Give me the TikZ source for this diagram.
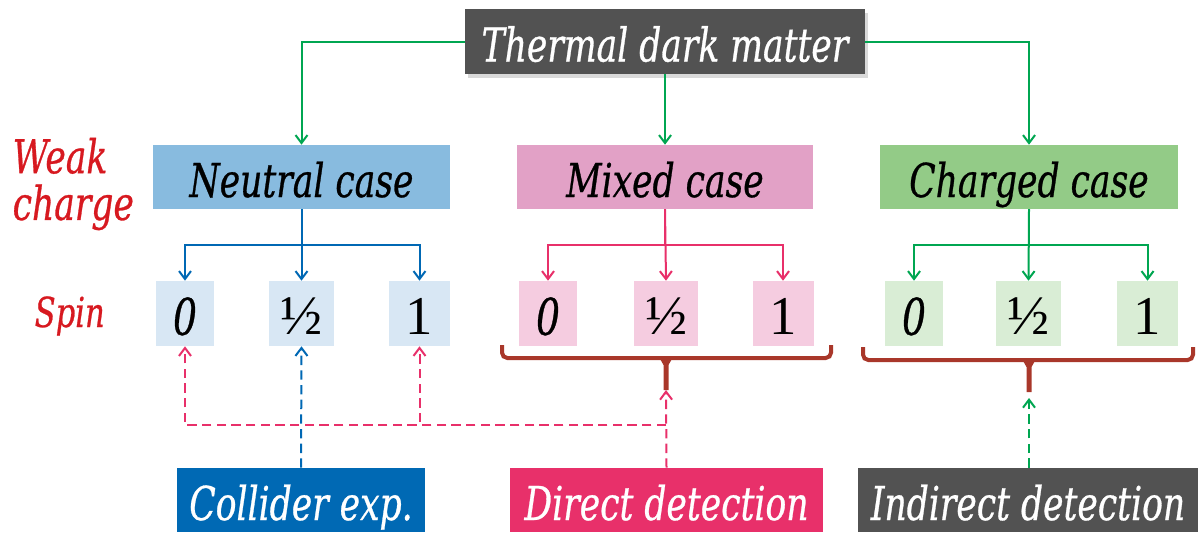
\documentclass[tikz,border=0pt]{standalone}
\usepackage{fontspec}
\setmainfont{Liberation Serif}
\newfontfamily\casefont[FakeStretch=0.74,FakeBold=0.6]{DejaVu Serif}
\usetikzlibrary{arrows.meta,shadows}

\definecolor{topgray}{RGB}{82,82,82}
\definecolor{neutralfill}{RGB}{136,187,223}
\definecolor{mixedfill}{RGB}{226,161,198}
\definecolor{chargedfill}{RGB}{147,203,135}
\definecolor{neutralspin}{RGB}{216,231,244}
\definecolor{mixedspin}{RGB}{245,204,224}
\definecolor{chargedspin}{RGB}{217,237,213}
\definecolor{colliderblue}{RGB}{0,105,180}
\definecolor{directpink}{RGB}{232,48,106}
\definecolor{linegreen}{RGB}{0,166,81}
\definecolor{lineblue}{RGB}{0,104,180}
\definecolor{bracered}{RGB}{169,55,42}
\definecolor{labelred}{RGB}{215,25,32}

\tikzset{
  bigtext/.style={font=\casefont\itshape\fontsize{35}{35}\selectfont, text height=30pt, text depth=0pt},
  topbox/.style={bigtext, fill=topgray, text=white, inner sep=0pt, minimum width=400*0.75pt, minimum height=65*0.75pt},
  casebox/.style={bigtext, inner sep=0pt, minimum height=64*0.75pt},
  detbox/.style={bigtext, text=white, inner sep=0pt, minimum height=64*0.75pt},
  spinbox/.style={inner sep=0pt, minimum height=65*0.75pt, font=\fontsize{41}{41}\selectfont, text height=32pt, text depth=0pt},
  branch/.style={line width=1.5pt, -{Straight Barb[length=6pt,width=9pt,line width=1.5pt]}},
  probe/.style={line width=1.5pt, dash pattern=on 7pt off 4pt, -{Straight Barb[length=6pt,width=9pt,line width=1.5pt]}},
  sidelabel/.style={text=labelred, font=\casefont\itshape\fontsize{35}{35}\selectfont}
}

\begin{document}
\begin{tikzpicture}[x=0.75pt,y=0.75pt,yscale=-1,xscale=1]
\useasboundingbox (0,0) rectangle (1198,532);

%Shape: Rectangle
\node[topbox, drop shadow={opacity=0.3, shadow xshift=2pt, shadow yshift=-3pt}] (tdm) at (665,41.5) {Thermal dark matter};

%Shape: Rectangle
\node[casebox, fill=neutralfill, minimum width=297*0.75pt] (neutral) at (301.5,177) {Neutral case};
\node[casebox, fill=mixedfill, minimum width=296*0.75pt] (mixed) at (665,177) {Mixed case};
\node[casebox, fill=chargedfill, minimum width=298*0.75pt] (charged) at (1029,177) {Charged case};

%Text
\node[sidelabel, align=left, anchor=west] (weak) at (8,184) {Weak\\charge};
\node[text=labelred, font=\casefont\itshape\fontsize{31}{31}\selectfont, anchor=base west] (spin) at (30,327) {Spin};

%Shape: Rectangle
\node[spinbox, fill=neutralspin, minimum width=58*0.75pt] (n0) at (185,313.5) {\casefont\itshape\fontsize{38}{38}\selectfont 0};
\node[spinbox, fill=neutralspin, minimum width=65*0.75pt] (nhalf) at (301.5,313.5) {\fontsize{42}{42}\selectfont ½};
\node[spinbox, fill=neutralspin, minimum width=61*0.75pt] (n1) at (419.5,313.5) {1};
\node[spinbox, fill=mixedspin, minimum width=58*0.75pt] (m0) at (548,313.5) {\casefont\itshape\fontsize{38}{38}\selectfont 0};
\node[spinbox, fill=mixedspin, minimum width=64*0.75pt] (mhalf) at (666,313.5) {\fontsize{42}{42}\selectfont ½};
\node[spinbox, fill=mixedspin, minimum width=61*0.75pt] (m1) at (783,313.5) {1};
\node[spinbox, fill=chargedspin, minimum width=58*0.75pt] (c0) at (914,313.5) {\casefont\itshape\fontsize{38}{38}\selectfont 0};
\node[spinbox, fill=chargedspin, minimum width=65*0.75pt] (chalf) at (1028.5,313.5) {\fontsize{42}{42}\selectfont ½};
\node[spinbox, fill=chargedspin, minimum width=61*0.75pt] (c1) at (1147.5,313.5) {1};

%Shape: Rectangle
\node[detbox, fill=colliderblue, minimum width=248*0.75pt] (collider) at (301,500) {Collider exp.};
\node[detbox, fill=directpink, minimum width=313*0.75pt] (direct) at (666.5,500) {Direct detection};
\node[detbox, fill=topgray, minimum width=340*0.75pt] (indirect) at (1028,500) {Indirect detection};

%Straight Lines
\draw[branch, linegreen] (tdm.west) -| (neutral.north);
\draw[branch, linegreen] (tdm) -- (mixed);
\draw[branch, linegreen] (tdm.east) -| (charged.north);

%Straight Lines
\draw[branch, lineblue] (neutral.south) -- ++(0,36) -| (n0.north);
\draw[branch, lineblue] (neutral.south) -- (nhalf.north);
\draw[branch, lineblue] (neutral.south) -- ++(0,36) -| (n1.north);
\draw[branch, directpink] (mixed.south) -- ++(0,36) -| (m0.north);
\draw[branch, directpink] (mixed.south) -- (mhalf.north);
\draw[branch, directpink] (mixed.south) -- ++(0,36) -| (m1.north);
\draw[branch, linegreen] (charged.south) -- ++(0,36) -| (c0.north);
\draw[branch, linegreen] (charged.south) -- (chalf.north);
\draw[branch, linegreen] (charged.south) -- ++(0,36) -| (c1.north);

%Shape: Brace
\draw[bracered, line width=3pt, rounded corners=4pt] (502,345) -- (502,358) -- (831,358) -- (831,345);
\fill[bracered] (659,357) -- (673,357) -- (668.5,365) -- (668.5,390) -- (663.5,390) -- (663.5,365) -- cycle;
\coordinate (mbrace) at (666,390);
%Shape: Brace
\draw[bracered, line width=3pt, rounded corners=4pt] (863,347) -- (863,360) -- (1193,360) -- (1193,347);
\fill[bracered] (1022,359) -- (1036,359) -- (1031.5,367) -- (1031.5,392) -- (1026.5,392) -- (1026.5,367) -- cycle;
\coordinate (cbrace) at (1029,398);

%Dashed Lines
\coordinate (dj) at (666,425);
\draw[probe, directpink] (direct.north) -- (mbrace);
\draw[probe, directpink] (dj) -| (n0.south);
\draw[probe, directpink] (dj) -| (n1.south);
\draw[probe, lineblue] (collider.north) -- (nhalf.south);
\draw[probe, linegreen] (indirect.north -| cbrace) -- (cbrace);

\end{tikzpicture}
\end{document}
